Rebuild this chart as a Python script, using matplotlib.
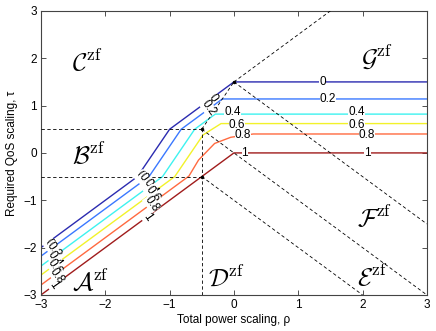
import numpy as np
import matplotlib
matplotlib.use("Agg")
import matplotlib.pyplot as plt

plt.rcParams["font.family"] = ["Liberation Sans", "DejaVu Sans"]
plt.rcParams["mathtext.fontset"] = "cm"

# contour levels and colours (jet-like)
levels = ["0", "0.2", "0.4", "0.6", "0.8", "1"]
colors = ["#2b2bb0", "#3a78ff", "#3ef2f0", "#f2f22a", "#ff6a40", "#a01c1c"]

# contour polylines (rho, tau)
rho_00 = [-3, -1.5, -1.0, 0.0, 3]
tau_00 = [-2, -0.5, 0.5, 1.5, 1.5]
rho_02 = [-3, -1.32, -0.82, -0.18, 3]
tau_02 = [-2.18, -0.5, 0.5, 1.14, 1.14]
rho_04 = [-3, -1.11, -0.61, -0.29, 3]
tau_04 = [-2.39, -0.5, 0.5, 0.82, 0.82]
rho_06 = [-3, -0.92, -0.48, -0.2, 3]
tau_06 = [-2.58, -0.5, 0.38, 0.62, 0.62]
rho_08 = [-3, -0.7, -0.55, -0.3, -0.05, 0.3, 3]
tau_08 = [-2.79, -0.49, -0.15, 0.2, 0.33, 0.4, 0.4]
rho_10 = [-3, 0, 3]
tau_10 = [-3, 0, 0]
curves = [(rho_00, tau_00), (rho_02, tau_02), (rho_04, tau_04),
          (rho_06, tau_06), (rho_08, tau_08), (rho_10, tau_10)]

# dashed region boundaries
bnd_rho = [[-3, -0.5], [-3, -0.5], [-0.5, -0.5], [-0.5, 0], [0, 1.5],
           [0, 3], [-0.5, 3], [-0.5, 2]]
bnd_tau = [[0.5, 0.5], [-0.5, -0.5], [-3, 0.5], [0.5, 1.5], [1.5, 3],
           [1.5, -1.5], [0.5, -3], [-0.5, -3]]
corner_rho = [-0.5, 0, -0.5]
corner_tau = [0.5, 1.5, -0.5]

# region names
regions = ["A", "B", "C", "D", "E", "F", "G"]
region_rho = [-2.52, -2.52, -2.52, -0.4, 1.92, 1.92, 1.98]
region_tau = [-2.72, -0.05, 1.92, -2.64, -2.64, -1.38, 2.03]

# inline contour labels: (level index, rho, tau, rotation)
clabels = [
    (0, -2.88, -1.9, -55), (1, -2.8, -2.05, -55), (2, -2.78, -2.25, -55),
    (3, -2.78, -2.42, -55), (4, -2.75, -2.6, -55), (5, -2.8, -2.8, -55),
    (0, -1.47, -0.47, -55), (1, -1.38, -0.6, -55), (2, -1.3, -0.72, -55),
    (3, -1.27, -0.86, -55), (4, -1.28, -1.07, -55), (5, -1.35, -1.35, -55),
    (0, -0.33, 1.17, -55), (1, -0.4, 0.95, -55),
    (0, 1.38, 1.5, 0), (1, 1.46, 1.14, 0), (2, -0.02, 0.86, 0),
    (2, 1.91, 0.86, 0), (3, 0.05, 0.6, 0), (3, 1.91, 0.6, 0),
    (4, 0.14, 0.38, 0), (4, 2.07, 0.38, 0), (5, 0.17, 0.0, 0),
    (5, 2.08, 0.0, 0),
]

fig = plt.figure(figsize=(4.36, 3.31), dpi=100, facecolor="white")
ax = fig.add_axes([0.094, 0.109, 0.885, 0.858])

for (xs, ys), c in zip(curves, colors):
    ax.plot(xs, ys, color=c, lw=1.0, zorder=2)

for xs, ys in zip(bnd_rho, bnd_tau):
    ax.plot(xs, ys, color="black", lw=0.6, ls=(0, (4, 3)), zorder=3)
ax.plot(corner_rho, corner_tau, "k.", ms=3, zorder=4)

for i, x, y, rot in clabels:
    ax.text(x, y, levels[i], fontsize=8.5, rotation=rot, rotation_mode="anchor",
            ha="center", va="center", zorder=5,
            bbox=dict(facecolor="white", edgecolor="none", pad=0.0))

for name, x, y in zip(regions, region_rho, region_tau):
    ax.text(x, y, r"$\mathcal{%s}^{\rm zf}$" % name, fontsize=18,
            ha="left", va="center", zorder=6)

ax.set_xlim(-3, 3)
ax.set_ylim(-3, 3)
ax.set_xticks(range(-3, 4))
ax.set_yticks(range(-3, 4))
ax.set_xticklabels(["\u22123", "\u22122", "\u22121", "0", "1", "2", "3"])
ax.set_yticklabels(["\u22123", "\u22122", "\u22121", "0", "1", "2", "3"])
ax.tick_params(direction="in", top=True, right=True, length=3.5, width=0.6,
               labelsize=8.5, pad=3, color="#333333")
for s in ax.spines.values():
    s.set_linewidth(0.8)
    s.set_color("#444444")
ax.set_xlabel("Total power scaling, \u03c1", fontsize=8.5, labelpad=2)
ax.set_ylabel("Required QoS scaling, \u03c4", fontsize=8.5, labelpad=4)

fig.savefig("out.png", dpi=100, facecolor="white")
